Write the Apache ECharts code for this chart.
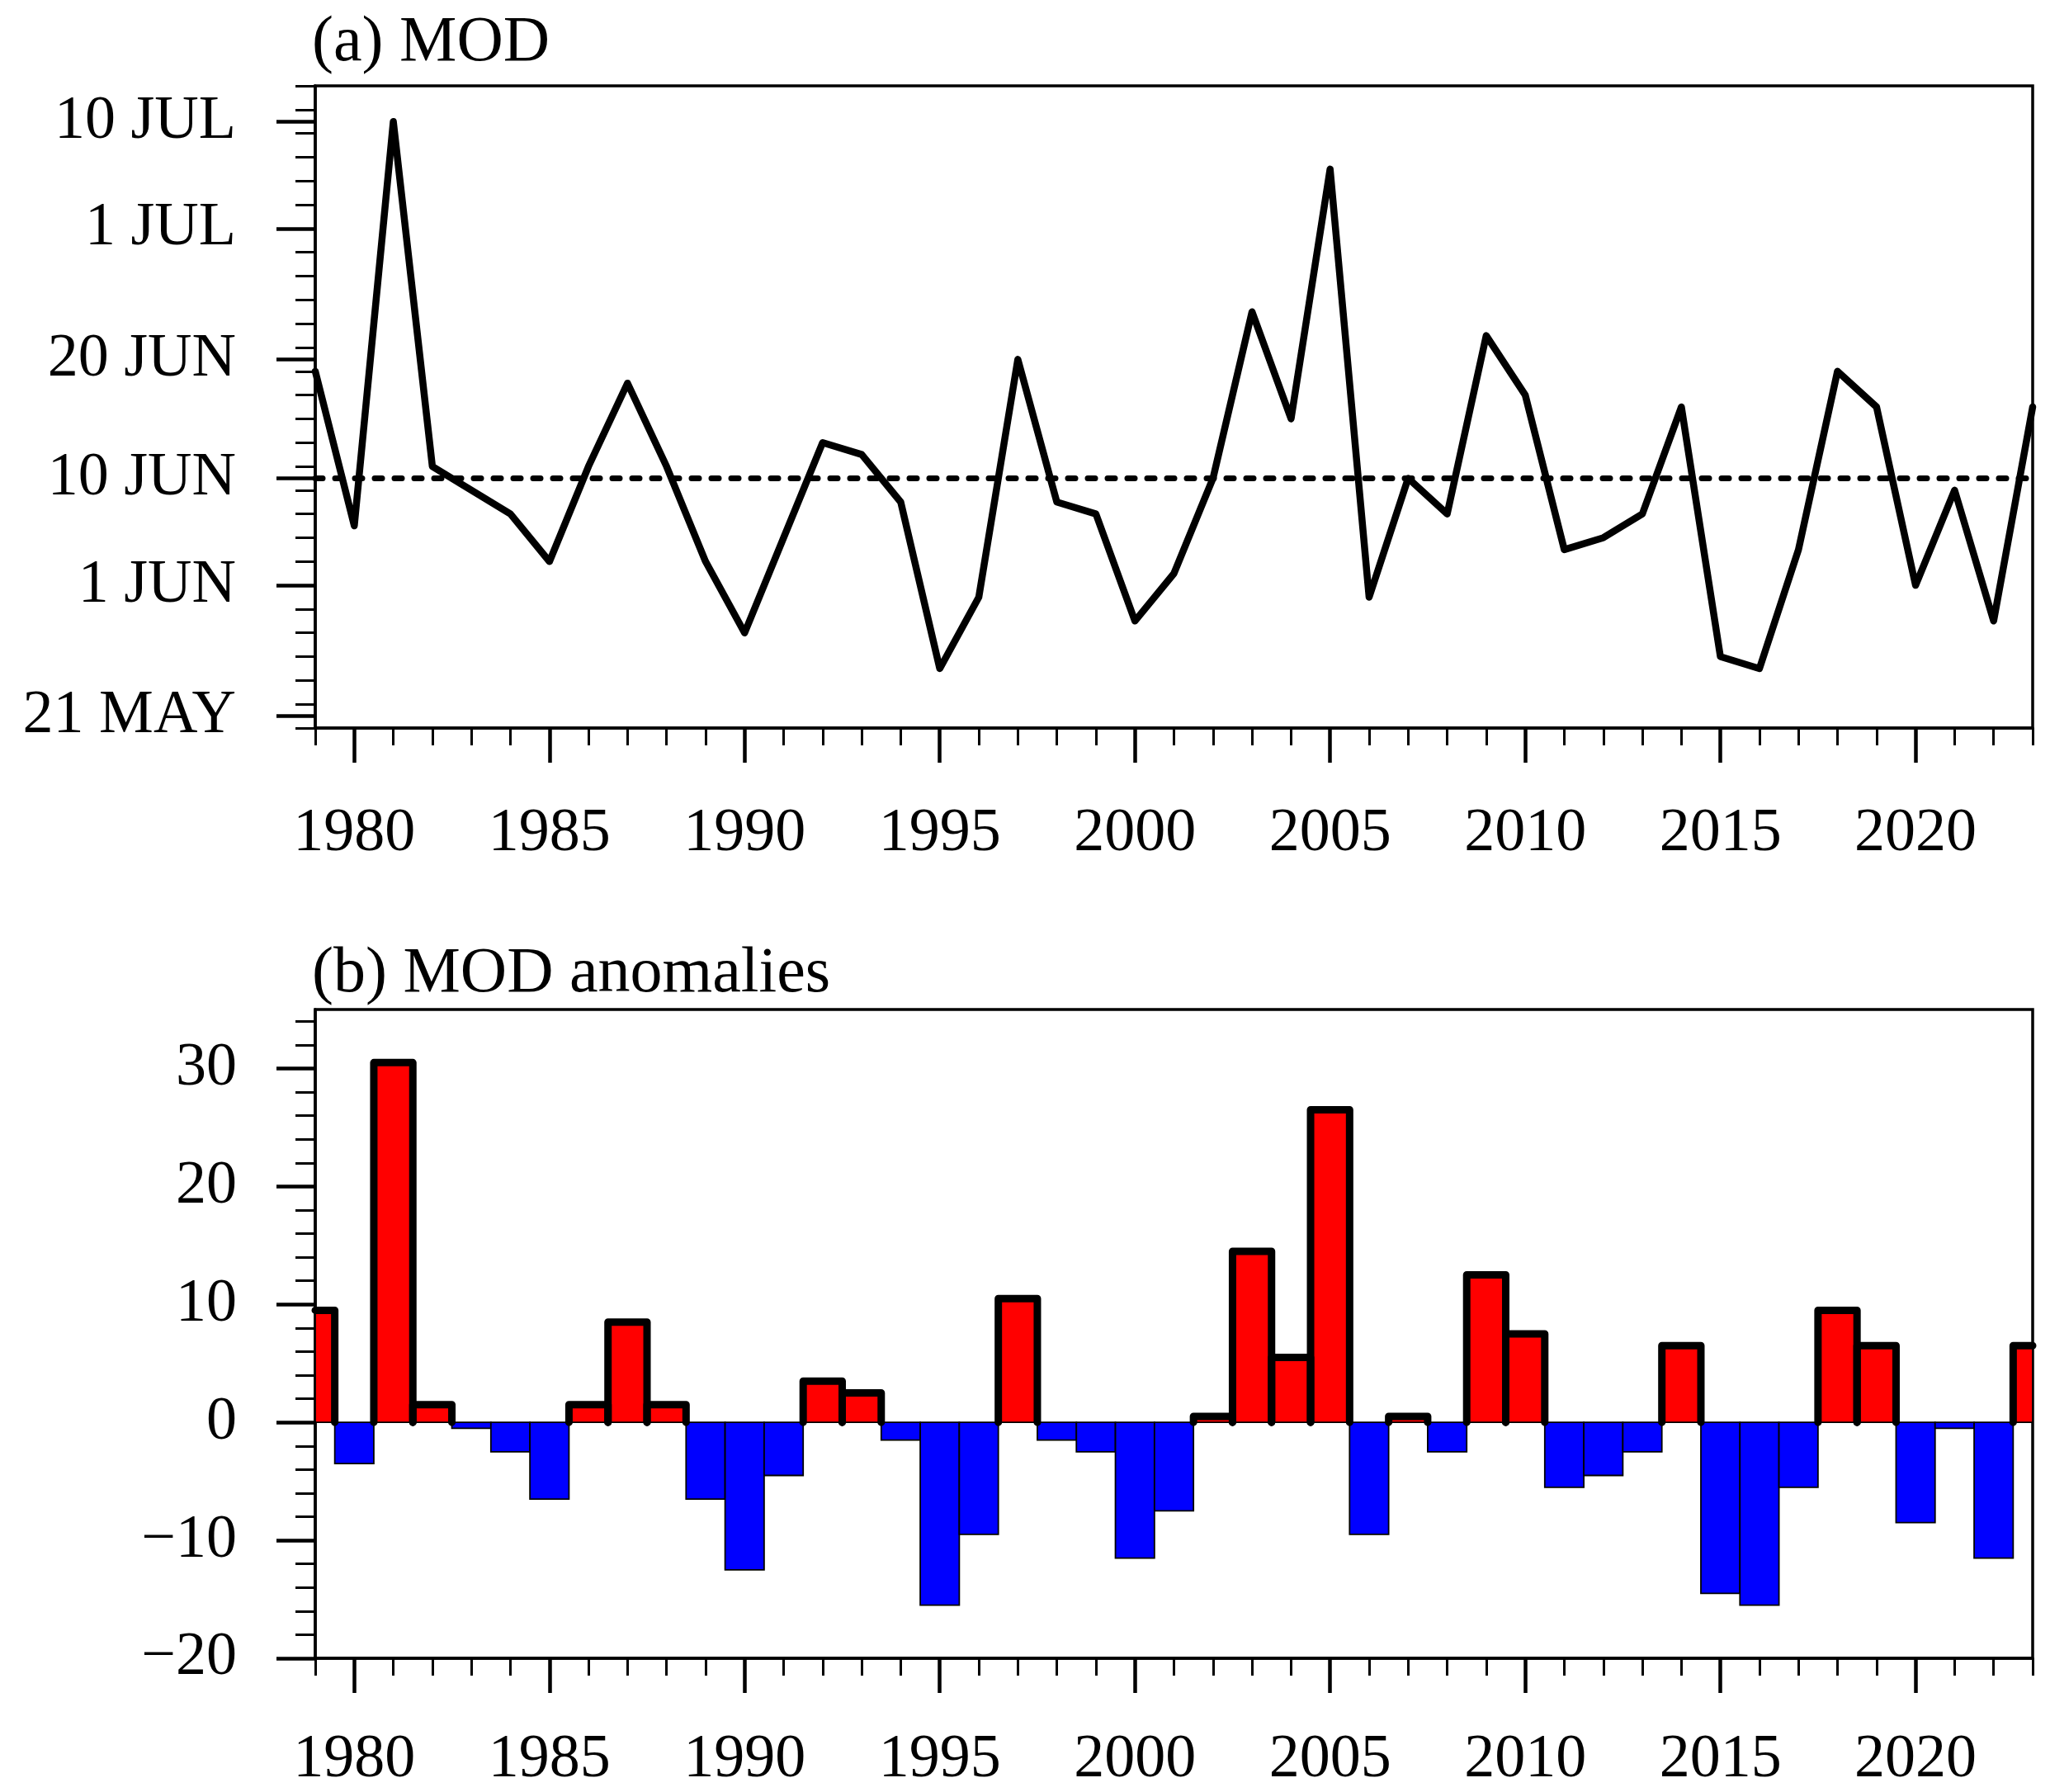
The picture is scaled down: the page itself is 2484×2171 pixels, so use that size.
<!DOCTYPE html>
<html>
<head>
<meta charset="utf-8">
<script src="https://cdn.jsdelivr.net/npm/echarts@6/dist/echarts.min.js"></script>
<style>
html,body{margin:0;padding:0;background:#fff;}
#chart{width:2484px;height:2171px;}
</style>
</head>
<body>
<div id="chart"></div>
<script>
// ---- data ----
const YEARS = [1979,1980,1981,1982,1983,1984,1985,1986,1987,1988,1989,1990,1991,1992,1993,1994,1995,1996,1997,1998,1999,2000,2001,2002,2003,2004,2005,2006,2007,2008,2009,2010,2011,2012,2013,2014,2015,2016,2017,2018,2019,2020,2021,2022,2023];
// MOD as day of year
const MOD_DAY = [170,157,191,162,160,158,154,162,169,162,154,148,156,164,163,159,145,151,171,159,158,149,153,161,175,166,187,151,161,158,173,168,155,156,158,167,146,145,155,170,167,152,160,149,167];
// MOD anomalies (days)
const MOD_ANOM = [9.5,-3.5,30.5,1.5,-0.5,-2.5,-6.5,1.5,8.5,1.5,-6.5,-12.5,-4.5,3.5,2.5,-1.5,-15.5,-9.5,10.5,-1.5,-2.5,-11.5,-7.5,0.5,14.5,5.5,26.5,-9.5,0.5,-2.5,12.5,7.5,-5.5,-4.5,-2.5,6.5,-14.5,-15.5,-5.5,9.5,6.5,-8.5,-0.5,-11.5,6.5];
const REF_DAY = 161;
const DAY_TICKS = [141,152,161,171,182,191];
const DAY_LABELS = ['21 MAY','1 JUN','10 JUN','20 JUN','1 JUL','10 JUL'];
const YEAR_TICKS = [1980,1985,1990,1995,2000,2005,2010,2015,2020];
const ANOM_TICKS = [-20,-10,0,10,20,30];
const TITLES = ['(a) MOD','(b) MOD anomalies'];

// ---- minor tick positions ----
function range(a,b,s){const r=[];for(let v=a;v<=b+1e-9;v+=s)r.push(v);return r;}
const YEAR_MINOR = range(1979,2023,1);
const DAY_MINOR = range(140,194,2);
const ANOM_MINOR = range(-20,34,2);

const FONT = "'Liberation Serif','Times New Roman',serif";
const LBL = {color:'#000', fontSize:74, fontFamily:FONT};

function majorAxis(grid, pos, min, max, ticks, len, margin, fmt){
  return {
    type:'value', gridIndex:grid, position:pos, min:min, max:max,
    axisLine:{show:true, onZero:false, lineStyle:{color:'#000', width:3.5}},
    axisTick:{show:true, inside:false, length:len, customValues:ticks, lineStyle:{color:'#000', width:4.5}},
    axisLabel:Object.assign({show:true, customValues:ticks, margin:margin, formatter:fmt}, LBL),
    splitLine:{show:false}, minorTick:{show:false}
  };
}
function minorAxis(grid, pos, min, max, ticks, len){
  return {
    type:'value', gridIndex:grid, position:pos, min:min, max:max,
    axisLine:{show:false, onZero:false},
    axisTick:{show:true, inside:false, length:len, customValues:ticks, lineStyle:{color:'#000', width:3}},
    axisLabel:{show:false},
    splitLine:{show:false}
  };
}
const yearFmt = v => String(v);
const dayFmt = v => { const i = DAY_TICKS.indexOf(v); return i>=0 ? DAY_LABELS[i] : ''; };
const anomFmt = v => v < 0 ? '\u2212' + Math.abs(v) : String(v);

const lineData = YEARS.map((y,i)=>[y, MOD_DAY[i]]);
const barData = YEARS.map((y,i)=>[y, MOD_ANOM[i]]);

const option = {
  backgroundColor:'#fff',
  animation:false,
  title:[
    {text:TITLES[0], left:378, top:14, padding:0, textStyle:{color:'#000', fontSize:78, fontWeight:'normal', fontFamily:FONT}},
    {text:TITLES[1], left:378, top:1142, padding:0, textStyle:{color:'#000', fontSize:78, fontWeight:'normal', fontFamily:FONT}}
  ],
  grid:[
    {left:382, top:104, width:2081, height:778, show:true, borderColor:'#000', borderWidth:3.5, backgroundColor:'transparent', containLabel:false, outerBoundsMode:'none'},
    {left:382, top:1223, width:2081, height:786, show:true, borderColor:'#000', borderWidth:3.5, backgroundColor:'transparent', containLabel:false, outerBoundsMode:'none'}
  ],
  xAxis:[
    majorAxis(0, 'bottom', 1979, 2023, YEAR_TICKS, 42, 92, yearFmt),
    minorAxis(0, 'bottom', 1979, 2023, YEAR_MINOR, 21),
    majorAxis(1, 'bottom', 1979, 2023, YEAR_TICKS, 42, 87, yearFmt),
    minorAxis(1, 'bottom', 1979, 2023, YEAR_MINOR, 21)
  ],
  yAxis:[
    majorAxis(0, 'left', 140, 194, DAY_TICKS, 47, 96, dayFmt),
    minorAxis(0, 'left', 140, 194, DAY_MINOR, 24),
    majorAxis(1, 'left', -20, 35, ANOM_TICKS, 47, 95, anomFmt),
    minorAxis(1, 'left', -20, 35, ANOM_MINOR, 24)
  ],
  series:[
    {
      type:'line', xAxisIndex:0, yAxisIndex:0, data:lineData,
      symbol:'none', z:5,
      lineStyle:{color:'#000', width:8.5, cap:'round', join:'round'},
      markLine:{
        silent:true, symbol:['none','none'], label:{show:false},
        lineStyle:{color:'#000', width:7, type:[9,15], cap:'round'},
        data:[{yAxis:REF_DAY}]
      }
    },
    {
      type:'custom', xAxisIndex:2, yAxisIndex:2, data:barData, z:3,
      renderItem:function(params, api){
        const x = api.value(0), v = api.value(1);
        const p0 = api.coord([x-0.5, 0]);
        const p1 = api.coord([x+0.5, v]);
        const cs = params.coordSys;
        const rect = echarts.graphic.clipRectByRect({
          x:Math.min(p0[0],p1[0]), y:Math.min(p0[1],p1[1]),
          width:Math.abs(p1[0]-p0[0]), height:Math.abs(p1[1]-p0[1])
        }, {x:cs.x, y:cs.y, width:cs.width, height:cs.height});
        if(!rect) return null;
        return {type:'rect', shape:rect, style:{fill: v>0 ? '#ff0000' : '#0000ff', stroke:'#000', lineWidth:1.8}};
      }
    },
    {
      type:'custom', xAxisIndex:2, yAxisIndex:2, data:barData, z:4,
      renderItem:function(params, api){
        const x = api.value(0), v = api.value(1);
        if(v <= 0) return null;
        const p0 = api.coord([x-0.5, 0]);
        const p1 = api.coord([x+0.5, v]);
        const cs = params.coordSys;
        const L = p0[0], R = p1[0], base = p0[1], top = p1[1];
        const pts = [];
        if(L >= cs.x - 0.5){ pts.push([L, base]); pts.push([L, top]); }
        else { pts.push([cs.x, top]); }
        if(R <= cs.x + cs.width + 0.5){ pts.push([R, top]); pts.push([R, base]); }
        else { pts.push([cs.x + cs.width, top]); }
        return {type:'polyline', shape:{points:pts}, style:{fill:null, stroke:'#000', lineWidth:9, lineCap:'round', lineJoin:'round'}};
      }
    }
  ]
};

const chart = echarts.init(document.getElementById('chart'), null, {renderer:'canvas'});
chart.setOption(option);
</script>
</body>
</html>
